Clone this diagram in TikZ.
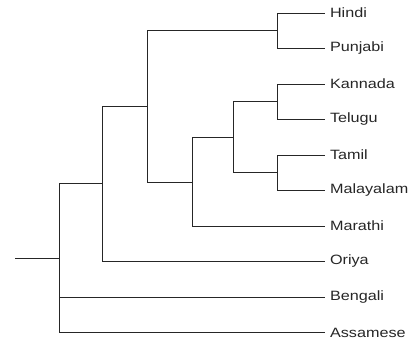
\documentclass[tikz,border=0pt]{standalone}
\usepackage{fontspec}
\setmainfont{Liberation Sans}
\begin{document}
\begin{tikzpicture}[x=1pt,y=-1pt,
  leaf/.style={anchor=west,inner sep=0pt,outer sep=0pt,font=\fontsize{13.5}{14}\selectfont,text=black!85},
  br/.style={draw=black!85,line width=0.9pt}]
\useasboundingbox (0,0) rectangle (414,340);
% leaves
\node[leaf] (hindi) at (325,13) {\hspace{5pt}\scalebox{1.2}[1]{Hindi}};
\node[leaf] (punjabi) at (325,48.5) {\hspace{5pt}\scalebox{1.2}[1]{Punjabi}};
\node[leaf] (kannada) at (325,84) {\hspace{5pt}\scalebox{1.2}[1]{Kannada}};
\node[leaf] (telugu) at (325,119.5) {\hspace{5pt}\scalebox{1.2}[1]{Telugu}};
\node[leaf] (tamil) at (325,155) {\hspace{5pt}\scalebox{1.2}[1]{Tamil}};
\node[leaf] (malayalam) at (325,190.5) {\hspace{5pt}\scalebox{1.2}[1]{Malayalam}};
\node[leaf] (marathi) at (325,226) {\hspace{5pt}\scalebox{1.2}[1]{Marathi}};
\node[leaf] (oriya) at (325,261.5) {\hspace{5pt}\scalebox{1.2}[1]{Oriya}};
\node[leaf] (bengali) at (325,297) {\hspace{5pt}\scalebox{1.2}[1]{Bengali}};
\node[leaf] (assamese) at (325,332.5) {\hspace{5pt}\scalebox{1.2}[1]{Assamese}};
% internal nodes
\coordinate (stub) at (15,258.5);
\coordinate (r) at (59,258.5);
\coordinate (a) at (102,183.5);
\coordinate (b) at (147,106);
\coordinate (c) at (277,30.75);
\coordinate (d) at (192,182);
\coordinate (e) at (233,137);
\coordinate (f) at (277,101.75);
\coordinate (g) at (277,172.75);
% connectors
\draw[br] (stub) -- (r);
\draw[br] (r) |- (a);
\draw[br] (r) |- (bengali.west);
\draw[br] (r) |- (assamese.west);
\draw[br] (a) |- (b);
\draw[br] (a) |- (oriya.west);
\draw[br] (b) |- (c);
\draw[br] (b) |- (d);
\draw[br] (c) |- (hindi.west);
\draw[br] (c) |- (punjabi.west);
\draw[br] (d) |- (e);
\draw[br] (d) |- (marathi.west);
\draw[br] (e) |- (f);
\draw[br] (e) |- (g);
\draw[br] (f) |- (kannada.west);
\draw[br] (f) |- (telugu.west);
\draw[br] (g) |- (tamil.west);
\draw[br] (g) |- (malayalam.west);
\end{tikzpicture}
\end{document}
